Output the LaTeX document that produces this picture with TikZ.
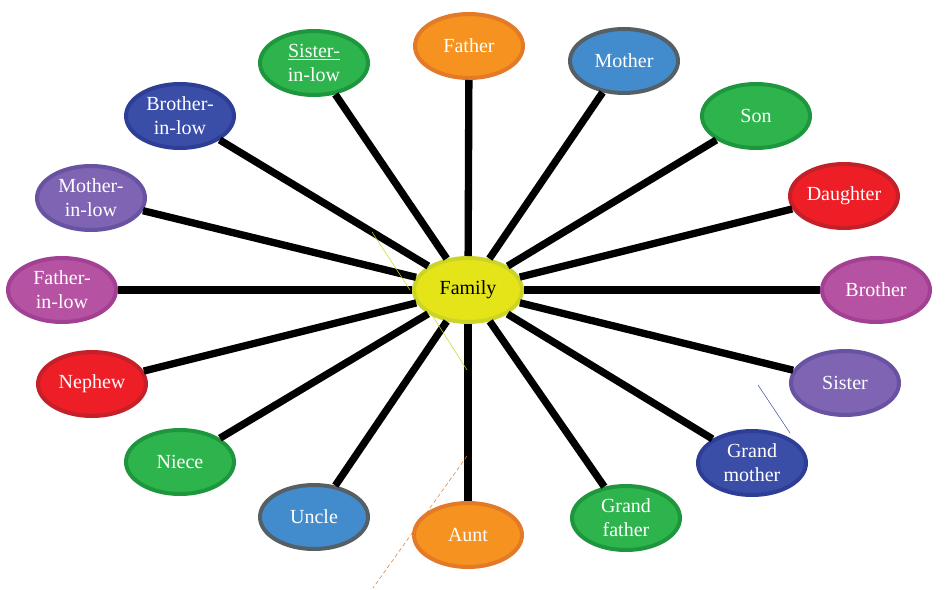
\documentclass[tikz,border=0pt]{standalone}
\usepackage{fontspec}
\setmainfont{Liberation Serif}
\usetikzlibrary{shapes.geometric, positioning}

\definecolor{famFill}{RGB}{228,228,25}
\definecolor{famLine}{RGB}{205,212,40}
\definecolor{orFill}{RGB}{246,146,32}
\definecolor{orLine}{RGB}{226,122,40}
\definecolor{blFill}{RGB}{66,140,205}
\definecolor{blLine}{RGB}{85,95,102}
\definecolor{grFill}{RGB}{46,180,76}
\definecolor{grLine}{RGB}{30,150,62}
\definecolor{rdFill}{RGB}{237,30,38}
\definecolor{rdLine}{RGB}{195,32,42}
\definecolor{mgFill}{RGB}{182,82,162}
\definecolor{mgLine}{RGB}{162,64,148}
\definecolor{lvFill}{RGB}{126,100,178}
\definecolor{lvLine}{RGB}{104,82,162}
\definecolor{dbFill}{RGB}{58,78,168}
\definecolor{dbLine}{RGB}{46,62,150}

\begin{document}
\begin{tikzpicture}[x=0.75pt,y=-0.75pt,
  member/.style={ellipse, draw=#1Line, fill=#1Fill, line width=3pt,
    minimum width=81pt, minimum height=48pt, inner sep=0pt,
    text=white, font=\fontsize{15}{18}\selectfont, align=center},
  spoke/.style={line width=5.5pt, black},
  stray/.style={thin}]
  \useasboundingbox (0,0) rectangle (945,589);

  % Centre
  \node[member=fam, text=black] (family) at (468,290) {Family};

  % Members round the centre
  \node[member=or] (father) at (469,46) {Father};
  \node[member=bl] (mother) at (624,61) {Mother};
  \node[member=gr] (son) at (756,116) {Son};
  \node[member=rd] (daughter) at (844,196) {Daughter};
  \node[member=mg] (brother) at (876,290) {Brother};
  \node[member=lv] (sister) at (845,383) {Sister};
  \node[member=db] (grandmother) at (752,463) {Grand\\mother};
  \node[member=gr] (grandfather) at (626,518) {Grand\\father};
  \node[member=or] (aunt) at (468,535) {Aunt};
  \node[member=bl] (uncle) at (314,517) {Uncle};
  \node[member=gr] (niece) at (180,462) {Niece};
  \node[member=rd] (nephew) at (92,384) {Nephew};
  \node[member=mg] (fatherinlow) at (62,290) {Father-\\in-low};
  \node[member=lv] (motherinlow) at (91,198) {Mother-\\in-low};
  \node[member=db] (brotherinlow) at (180,116) {Brother-\\in-low};
  \node[member=gr] (sisterinlow) at (314,63) {\underline{Sister-}\\in-low};

  % Spokes
  \foreach \m in {father, mother, son, daughter, brother, sister,
      grandmother, grandfather, aunt, uncle, niece, nephew,
      fatherinlow, motherinlow, brotherinlow, sisterinlow}
    \draw[spoke] (family) -- (\m);

  % Stray thin strokes
  \draw[stray, famLine] (372,232) -- (410,290);
  \draw[stray, famLine] (432,315) -- (467,370);
  \draw[stray, orLine, densely dashed] (467,456) -- (373,588);
  \draw[stray, dbFill] (758,385) -- (790,433);
\end{tikzpicture}
\end{document}
